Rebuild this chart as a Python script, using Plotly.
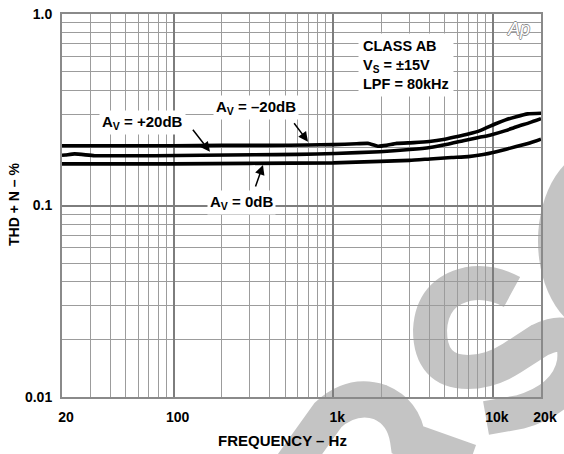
import math
import plotly.graph_objects as go

# ---------------- data ----------------
freq_m20 = [20, 30, 50, 100, 200, 400, 700, 1000, 1400, 1650, 1900, 2150, 2500, 3200, 4000, 5000, 6000, 7000, 8300, 10500, 12000, 14000, 16500, 20000]
thd_m20 = [0.205, 0.205, 0.205, 0.205, 0.206, 0.206, 0.207, 0.208, 0.210, 0.211, 0.204, 0.206, 0.211, 0.213, 0.216, 0.222, 0.229, 0.236, 0.246, 0.268, 0.280, 0.291, 0.301, 0.303]

freq_p20 = [20, 21, 24, 32, 50, 76, 150, 323, 600, 1024, 1960, 3000, 4030, 5200, 6510, 8000, 9570, 12000, 14060, 17000, 20000]
thd_p20 = [0.183, 0.1835, 0.186, 0.182, 0.182, 0.182, 0.183, 0.184, 0.185, 0.187, 0.191, 0.196, 0.201, 0.209, 0.218, 0.226, 0.233, 0.246, 0.258, 0.271, 0.284]

freq_0 = [20, 50, 100, 300, 1000, 1960, 3000, 4030, 5500, 7000, 8500, 10500, 14000, 17000, 20000]
thd_0 = [0.165, 0.165, 0.165, 0.166, 0.167, 0.170, 0.172, 0.175, 0.178, 0.180, 0.184, 0.191, 0.203, 0.212, 0.222]

x_major = [20, 100, 1000, 10000, 20000]
x_major_text = ["20", "100", "1k", "10k", "20k"]
x_minor = [30, 40, 50, 60, 70, 80, 90, 200, 300, 400, 500, 600, 700, 800, 900,
           2000, 3000, 4000, 5000, 6000, 7000, 8000, 9000]
y_major = [0.01, 0.1, 1.0]
y_major_text = ["0.01", "0.1", "1.0"]
y_minor = [0.02, 0.03, 0.04, 0.05, 0.06, 0.07, 0.08, 0.09, 0.2, 0.3, 0.4, 0.5, 0.6, 0.7, 0.8, 0.9]

FONT = "Liberation Sans, Arial, Helvetica, sans-serif"
W, H = 564, 454
ML, MR, MT, MB = 62, 23, 14, 57
PW, PH = W - ML - MR, H - MT - MB

fig = go.Figure()
for f, v in [(freq_m20, thd_m20), (freq_p20, thd_p20), (freq_0, thd_0)]:
    fig.add_trace(go.Scatter(x=f, y=v, mode="lines",
                             line=dict(color="black", width=3.6, shape="spline", smoothing=0.5),
                             hoverinfo="skip", showlegend=False))

# ---------- helpers for layout positions ----------
def paper(px, py):
    return (px - ML) / PW, (H - MB - py) / PH

def path(cmds):
    out = []
    for c in cmds:
        if isinstance(c, str):
            out.append(c)
        else:
            x, y = paper(*c)
            out.append(f"{x:.4f},{y:.4f}")
    return " ".join(out)

# light grey watermark behind the grid
WM = "#c4c4c4"
REF = dict(xref="x domain", yref="y domain", layer="below")
S_PATH = path(["M", (512, 292), "Q", (490, 280), (468, 284), "Q", (432, 292), (430, 330),
               "Q", (430, 372), (468, 372), "Q", (490, 372), (512, 358), "L", (540, 340),
               "Q", (578, 322), (574, 362), "Q", (568, 398), (520, 412), "L", (486, 418)])
ARCH_PATH = path(["M", (285, 475), "L", (328, 415), "Q", (352, 393), (380, 402),
                  "Q", (404, 412), (408, 440), "L", (470, 462)])
shapes = []
ex, ey = paper(598, 241)
rx, ry = 60 / PW, 92 / PH
shapes.append(dict(type="circle", **REF,
                   x0=ex - rx, x1=ex + rx, y0=ey - ry, y1=ey + ry,
                   fillcolor=WM, line=dict(width=0)))
shapes.append(dict(type="path", **REF, path=S_PATH, line=dict(color=WM, width=34)))
shapes.append(dict(type="path", **REF, path=ARCH_PATH, line=dict(color=WM, width=36)))

# ---------- annotations ----------
def dpos(px, py):
    return math.log10(20) + (px - ML) / (PW / 3), -(py - MT) / (PH / 2)

tf = dict(family=FONT, size=15, color="black", weight=700)
ann = []
for txt, (px, py) in [("A<sub>V</sub> = –20dB", (255.5, 107.5)),
                      ("A<sub>V</sub> = +20dB", (142.5, 122.5)),
                      ("A<sub>V</sub> = 0dB", (241, 202))]:
    x, y = dpos(px, py)
    ann.append(dict(x=x, y=y, xref="x", yref="y", text=txt, showarrow=False,
                    xanchor="center", yanchor="middle",
                    font=tf, bgcolor="white", borderpad=2))
for (tx, ty), (hx, hy) in [((293, 121.7), (308, 141.7)),
                           ((191.7, 128.3), (210, 151.7)),
                           ((255, 188), (263, 165))]:
    x, y = dpos(hx, hy)
    ann.append(dict(x=x, y=y, xref="x", yref="y", text="", showarrow=True,
                    ax=tx - hx, ay=ty - hy, arrowhead=2, arrowsize=1.3,
                    arrowwidth=1.5, arrowcolor="black", standoff=0, startstandoff=0))
x, y = paper(358, 64.5)
ann.append(dict(x=x, y=y, xref="paper", yref="paper", xanchor="left", yanchor="middle",
                align="left", showarrow=False, bgcolor="white", borderpad=4,
                font=dict(tf, size=14.5),
                text="CLASS AB<br>V<sub>S</sub> = ±15V<br>LPF = 80kHz"))
x, y = paper(14, 205)
ann.append(dict(x=x, y=y, xref="paper", yref="paper", showarrow=False, textangle=-90,
                xanchor="center", yanchor="middle",
                text="THD + N – %", font=dict(tf, size=14)))
x, y = paper(282, 440)
ann.append(dict(x=x, y=y, xref="paper", yref="paper", showarrow=False,
                xanchor="center", yanchor="middle",
                text="FREQUENCY – Hz", font=tf))
x, y = paper(518, 29)
ann.append(dict(x=x, y=y, xref="paper", yref="paper", showarrow=False, text="Ap",
                xanchor="center", yanchor="middle",
                font=dict(family=FONT, size=18, color="white", style="italic",
                          shadow="-0.7px 0 #8a8a8a, 0.7px 0 #8a8a8a, 0 -0.7px #8a8a8a, 0 0.7px #8a8a8a")))

axis_common = dict(type="log", showline=True, linecolor="#8a8a8a", linewidth=2, mirror=True,
                   ticks="", zeroline=False, showgrid=True, gridcolor="#7d7d7d", gridwidth=1.7,
                   automargin=False,
                   tickfont=dict(family=FONT, size=14, color="black", weight=700))

fig.update_layout(
    width=W, height=H, margin=dict(l=ML, r=MR, t=MT, b=MB, autoexpand=False),
    paper_bgcolor="white", plot_bgcolor="rgba(0,0,0,0)", showlegend=False,
    xaxis=dict(axis_common, range=[math.log10(20), math.log10(20000)],
               tickmode="array", tickvals=x_major, ticktext=x_major_text,
               ticklabelstandoff=6, ticklabelshift=4,
               minor=dict(tickmode="array", tickvals=x_minor, showgrid=True,
                          gridcolor="#9c9c9c", gridwidth=1.1, ticks="")),
    yaxis=dict(axis_common, range=[-2, 0],
               tickmode="array", tickvals=y_major, ticktext=y_major_text,
               ticklabelstandoff=5,
               minor=dict(tickmode="array", tickvals=y_minor, showgrid=True,
                          gridcolor="#9c9c9c", gridwidth=1.1, ticks="")),
    shapes=shapes, annotations=ann,
)

fig.write_html("out.html", config={"displayModeBar": False},
               post_script="document.body.style.margin='0';document.body.style.padding='0';")
